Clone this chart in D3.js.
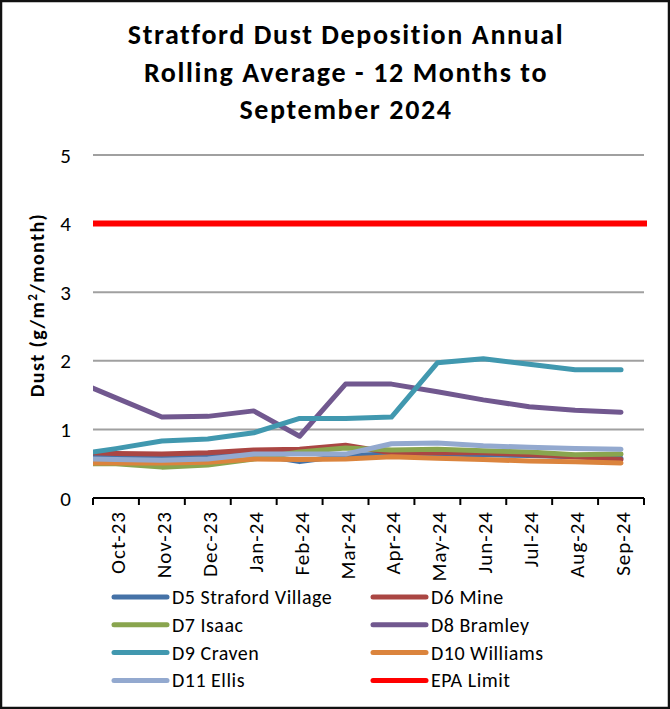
<!DOCTYPE html>
<html>
<head>
<meta charset="utf-8">
<script src="https://cdn.jsdelivr.net/npm/d3@7"></script>
<style>
  body { margin: 0; background: #fff; }
  text { font-family: Carlito, Calibri, Lato, sans-serif; fill: #000; }
</style>
</head>
<body>
<div id="chart"></div>
<script>
// Months (first one is the prior month, it sits outside the visible axis and is clipped)
var months = ["Sep-23","Oct-23","Nov-23","Dec-23","Jan-24","Feb-24","Mar-24","Apr-24","May-24","Jun-24","Jul-24","Aug-24","Sep-24"];

// Rolling averages, g/m2/month
var d5  = [0.60,0.60,0.58,0.60,0.64,0.53,0.62,0.64,0.64,0.63,0.62,0.60,0.58];
var d6  = [0.67,0.65,0.64,0.66,0.70,0.71,0.77,0.66,0.66,0.66,0.63,0.60,0.56];
var d7  = [0.50,0.50,0.45,0.48,0.57,0.67,0.73,0.70,0.71,0.69,0.67,0.63,0.64];
var d8  = [1.74,1.46,1.18,1.19,1.27,0.90,1.66,1.66,1.55,1.43,1.33,1.28,1.25];
var d9  = [0.62,0.72,0.83,0.86,0.95,1.16,1.16,1.18,1.97,2.03,1.95,1.87,1.87];
var d10 = [0.51,0.51,0.51,0.52,0.57,0.56,0.57,0.60,0.58,0.56,0.54,0.53,0.51];
var d11 = [0.58,0.56,0.55,0.57,0.64,0.64,0.64,0.79,0.80,0.76,0.74,0.72,0.71];
var epaLimit = 4;

var seriesNames = ["D5 Straford Village","D6 Mine","D7 Isaac","D8 Bramley","D9 Craven","D10 Williams","D11 Ellis","EPA Limit"];
var seriesColors = ["#4572A7","#AA4643","#89A54E","#71588F","#4198AF","#DB843D","#93A9CF","#FF0000"];
var yTicks = [0,1,2,3,4,5];
var titleLines = ["Stratford Dust Deposition Annual","Rolling Average - 12 Months to","September 2024"];

var W = 670, H = 709;
var plot = {left: 93, right: 644, top: 155, bottom: 498};

var svg = d3.select("#chart").append("svg")
	.attr("width", W)
	.attr("height", H);

//Outer frame
svg.append("rect")
	.attr("x", 1).attr("y", 1)
	.attr("width", W - 2).attr("height", H - 2)
	.attr("fill", "#fff")
	.attr("stroke", "#111")
	.attr("stroke-width", 2.5);

//Title
svg.append("g").selectAll("text")
	.data(titleLines)
	.enter().append("text")
	.attr("x", 346)
	.attr("y", function(d, i) { return 44 + i * 37.5; })
	.attr("text-anchor", "middle")
	.style("font-size", "28px")
	.style("font-weight", "bold")
	.style("letter-spacing", "1.6px")
	.text(function(d) { return d; });

//Scales: index 0 is the hidden prior month, visible categories are 1..12
var x = d3.scaleLinear().domain([0.5, 12.5]).range([plot.left, plot.right]);
var y = d3.scaleLinear().domain([0, 5]).range([plot.bottom, plot.top]);

//Gridlines
svg.append("g").selectAll("line")
	.data(yTicks.filter(function(d) { return d > 0; }))
	.enter().append("line")
	.attr("x1", plot.left).attr("x2", plot.right)
	.attr("y1", function(d) { return y(d); })
	.attr("y2", function(d) { return y(d); })
	.attr("stroke", "#a0a0a0")
	.attr("stroke-width", 2);

//Y tick labels
svg.append("g").selectAll("text")
	.data(yTicks)
	.enter().append("text")
	.attr("x", 71)
	.attr("y", function(d) { return y(d) + 7.5; })
	.attr("text-anchor", "end")
	.style("font-size", "21px")
	.text(function(d) { return d; });

//Y axis title
svg.append("text")
	.attr("transform", "translate(44,305) rotate(-90)")
	.attr("text-anchor", "middle")
	.style("font-size", "20px")
	.style("font-weight", "bold")
	.style("letter-spacing", "1.4px")
	.html("Dust (g/m<tspan dy='-7' style='font-size:13px'>2</tspan><tspan dy='7'>/month)</tspan>");

//X axis line and tick marks (ticks sit between categories)
svg.append("line")
	.attr("x1", plot.left).attr("x2", plot.right)
	.attr("y1", y(0)).attr("y2", y(0))
	.attr("stroke", "#000").attr("stroke-width", 2);

svg.append("g").selectAll("line")
	.data(d3.range(0.5, 13, 1))
	.enter().append("line")
	.attr("x1", function(d) { return x(d); })
	.attr("x2", function(d) { return x(d); })
	.attr("y1", y(0)).attr("y2", y(0) + 7)
	.attr("stroke", "#000").attr("stroke-width", 2);

//X labels, rotated
svg.append("g").selectAll("text")
	.data(months.slice(1))
	.enter().append("text")
	.attr("transform", function(d, i) { return "translate(" + (x(i + 1) + 9) + "," + (y(0) + 13) + ") rotate(-90)"; })
	.attr("text-anchor", "end")
	.style("font-size", "21px")
	.style("letter-spacing", "1px")
	.text(function(d) { return d; });

//Clip lines to plot width
svg.append("clipPath").attr("id", "plot-clip")
	.append("rect")
	.attr("x", plot.left).attr("y", 0)
	.attr("width", plot.right - plot.left + 3).attr("height", H);

var lineGen = d3.line()
	.x(function(d, i) { return x(i); })
	.y(function(d) { return y(d); });

var seriesData = [d5, d6, d7, d8, d9, d10, d11];

var lines = svg.append("g").attr("clip-path", "url(#plot-clip)");

lines.selectAll("path.series")
	.data(seriesData)
	.enter().append("path")
	.attr("class", "series")
	.attr("d", lineGen)
	.attr("fill", "none")
	.attr("stroke", function(d, i) { return seriesColors[i]; })
	.attr("stroke-width", 5)
	.attr("stroke-linejoin", "round")
	.attr("stroke-linecap", "round");

//EPA limit spans the whole plot width
lines.append("line")
	.attr("x1", plot.left).attr("x2", plot.right + 3)
	.attr("y1", y(epaLimit)).attr("y2", y(epaLimit))
	.attr("stroke", seriesColors[7])
	.attr("stroke-width", 6);

//Legend, two columns
var legend = svg.append("g").selectAll("g")
	.data(seriesNames)
	.enter().append("g")
	.attr("transform", function(d, i) {
		return "translate(" + (i % 2 === 0 ? 114 : 373) + "," + (597 + Math.floor(i / 2) * 27.8) + ")";
	});

legend.append("line")
	.attr("x1", 0).attr("x2", 53)
	.attr("y1", 0).attr("y2", 0)
	.attr("stroke", function(d, i) { return seriesColors[i]; })
	.attr("stroke-width", 5)
	.attr("stroke-linecap", "round");

legend.append("text")
	.attr("x", 58)
	.attr("y", 7)
	.style("font-size", "20px")
	.style("letter-spacing", "0.5px")
	.text(function(d) { return d; });
</script>
</body>
</html>
